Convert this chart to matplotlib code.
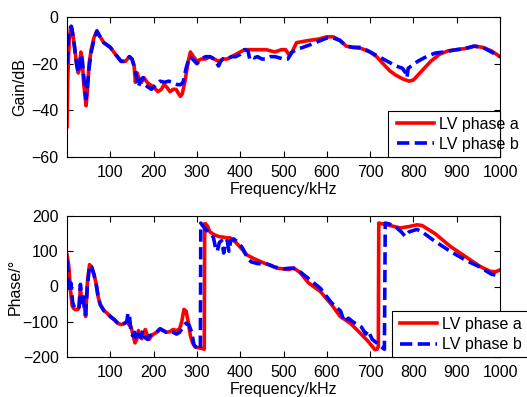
import matplotlib
matplotlib.use("Agg")
import matplotlib.pyplot as plt
from matplotlib.patches import Rectangle
from matplotlib.lines import Line2D

plt.rcParams['font.family'] = ['Liberation Sans', 'DejaVu Sans']

# ---------------- data ----------------
gain_a_f = [0,2,5,8,10,13,17,22,26,29,32,35,38,41,44,47,51,56,62,69,75,85,100,112,125,135,144,150,155,158,162,167,172,178,185,192,200,210,218,224,230,238,245,252,258,262,266,272,280,285,292,300,310,320,330,340,350,360,370,380,390,400,410,420,440,460,480,495,505,512,520,530,545,560,580,600,615,630,645,660,680,700,715,730,745,760,775,790,800,810,825,840,860,880,900,920,940,960,980,1000]
gain_a = [-47,-25,-10,-5,-4,-7,-12,-20,-24,-22,-15,-18,-27,-33,-38,-32,-20,-14,-9,-6,-8,-11,-13,-16,-19,-19,-17,-18,-21,-28,-24,-27,-28,-26,-28,-29,-30,-32,-31,-29,-30,-32,-31,-31,-33,-34,-33,-28,-19,-15,-17,-19,-18,-18,-17,-18,-19,-18,-18,-17,-16,-15,-14,-14,-14,-14,-15,-14,-14,-16,-15,-11,-10.5,-10,-9.5,-8.5,-8.5,-10,-12.5,-13,-13.5,-15,-17,-20,-23,-25,-26.5,-27.5,-27,-25,-22,-19,-16,-14.5,-14,-13.5,-12.5,-13,-14.5,-17]

gain_b_f = [0,3,6,10,14,18,22,26,29,32,35,38,41,44,47,51,56,62,69,75,85,100,112,125,135,144,150,155,160,165,170,175,180,187,195,205,215,225,235,245,255,262,268,275,283,290,300,310,320,330,340,350,355,360,370,380,390,400,410,418,422,426,432,440,450,460,470,480,490,500,510,520,530,545,560,580,600,615,630,645,660,680,700,720,740,760,775,782,785,788,795,810,830,850,870,900,920,940,960,980,1000]
gain_b = [-20,-10,-5,-4,-8,-14,-20,-24,-20,-16,-18,-24,-30,-35,-30,-22,-15,-10,-6,-8,-11,-13,-16,-19,-19,-17,-18,-21,-25,-30,-27,-26,-29,-30,-31,-29,-27.5,-28,-27.5,-28,-29,-29,-28,-22,-17,-18,-20,-18,-17,-17,-18,-21,-19,-18,-18,-17,-17,-16,-14,-14.5,-18,-17,-17.5,-17,-18,-18,-17,-17,-17.5,-18,-18,-15,-14,-13,-12,-10.5,-9,-9,-10,-12.5,-13,-13,-15,-17,-19,-21,-22,-24,-26,-22,-21,-19,-17,-15.5,-15,-14,-13.5,-12.5,-13,-15,-17]

phase_a_f = [0,4,8,12,16,20,25,28,31,34,37,40,43,47,52,57,62,67,72,77,85,92,100,110,118,125,132,138,143,148,153,157,161,165,169,173,177,181,186,190,195,200,207,215,222,230,238,245,253,260,265,270,275,280,285,290,295,300,310,317,318,320,325,330,340,350,360,370,377,390,400,415,430,454,470,485,500,512,523,538,558,585,610,631,655,677,695,711,716,719,720,740,769,790,808,820,850,885,920,954,977,990,1000]
phase_a = [90,60,-10,-55,-63,-66,-65,-58,-3,-45,-30,-55,-85,10,62,55,35,10,-30,-52,-68,-75,-85,-95,-105,-108,-105,-100,-108,-115,-140,-160,-150,-125,-140,-148,-130,-122,-140,-150,-140,-135,-130,-120,-125,-130,-128,-122,-125,-120,-100,-65,-70,-100,-140,-160,-170,-173,-175,-178,178,178,170,155,147,142,140,138,138,125,112,90,80,67,60,52,50,48,53,40,10,-14,-50,-85,-105,-132,-155,-179,-178,-170,180,175,166,170,175,173,150,114,85,57,43,42,47]

phase_b_f = [0,3,6,9,13,18,24,28,31,34,37,40,43,47,52,57,62,67,72,77,85,92,100,110,118,125,132,138,141,144,148,152,156,160,165,170,175,180,186,190,200,207,215,222,230,238,245,253,260,268,275,282,288,293,300,308,309,315,322,330,338,343,347,352,357,362,366,370,374,378,385,395,405,415,425,440,460,480,500,515,530,545,560,585,610,625,632,640,650,660,680,690,695,705,720,733,735,745,760,772,781,790,808,820,850,885,920,954,980,1000]
phase_b = [75,30,-15,10,-45,-62,-65,-58,6,-45,-20,-60,-80,0,60,55,35,10,-30,-52,-68,-75,-85,-95,-105,-108,-105,-100,-75,-80,-130,-140,-130,-150,-135,-145,-125,-145,-150,-140,-135,-130,-120,-125,-130,-128,-130,-135,-130,-115,-104,-110,-130,-165,-175,-178,180,170,160,150,140,110,100,125,130,95,125,130,100,130,135,125,110,85,70,65,65,55,50,52,50,35,20,-5,-45,-62,-70,-100,-90,-100,-115,-135,-125,-150,-165,-178,180,177,168,155,142,155,162,155,128,100,75,55,35,30]

labels = ["LV phase a", "LV phase b"]
xticks = [100, 200, 300, 400, 500, 600, 700, 800, 900, 1000]

# ---------------- figure ----------------
W, H = 527, 397
fig = plt.figure(figsize=(W / 100, H / 100), dpi=100)
fs = 11.5
LW = 2.6
DASH = (0, (3.4, 1.5))

def px_axes(x0, x1, y0, y1):
    return fig.add_axes([x0 / W, 1 - y1 / H, (x1 - x0) / W, (y1 - y0) / H])

ax1 = px_axes(67, 500, 17, 157)
ax2 = px_axes(67, 500, 216, 357)

for ax in (ax1, ax2):
    ax.set_xlim(0, 1000)
    ax.set_xticks(xticks)
    ax.tick_params(direction='in', top=True, right=True, labelsize=fs, length=4, width=0.8, pad=6)
    for s in ax.spines.values():
        s.set_linewidth(0.8)
    ax.set_xlabel("Frequency/kHz", fontsize=fs, labelpad=1)

ax1.plot(gain_a_f, gain_a, color='red', lw=LW)
ax1.plot(gain_b_f, gain_b, color='blue', lw=LW, ls=DASH)
ax1.set_ylim(-60, 0)
ax1.set_yticks([-60, -40, -20, 0])
ax1.set_ylabel("Gain/dB", fontsize=fs, labelpad=3)

ax2.plot(phase_a_f, phase_a, color='red', lw=LW)
ax2.plot(phase_b_f, phase_b, color='blue', lw=LW, ls=DASH)
ax2.set_ylim(-200, 200)
ax2.set_yticks([-200, -100, 0, 100, 200])
ax2.set_ylabel("Phase/°", fontsize=fs, labelpad=0)

handles = [Line2D([], [], color='red', lw=LW), Line2D([], [], color='blue', lw=LW, ls=DASH)]

def add_legend(ax, box, hx, y1):
    # box: (x0, x1, y0, y1) in pixels (top-left origin)
    x0, x1, yb0, yb1 = box
    rect = Rectangle((x0 / W, 1 - yb1 / H), (x1 - x0) / W, (yb1 - yb0) / H,
                     transform=fig.transFigure, facecolor='white',
                     edgecolor='black', lw=0.8, zorder=4, clip_on=False)
    ax.add_artist(rect)
    leg = ax.legend(handles, labels, loc='upper left',
                    bbox_to_anchor=(hx / W, 1 - y1 / H), bbox_transform=fig.transFigure,
                    frameon=False, borderpad=0, borderaxespad=0, fontsize=fs,
                    handlelength=2.3, handletextpad=0.3, labelspacing=0.34)
    leg.set_zorder(6)
    return leg

add_legend(ax1, (388, 500, 111, 157), 397, 116.5)
add_legend(ax2, (392, 530, 311, 357), 400, 317)

fig.savefig("out.png", dpi=100)
